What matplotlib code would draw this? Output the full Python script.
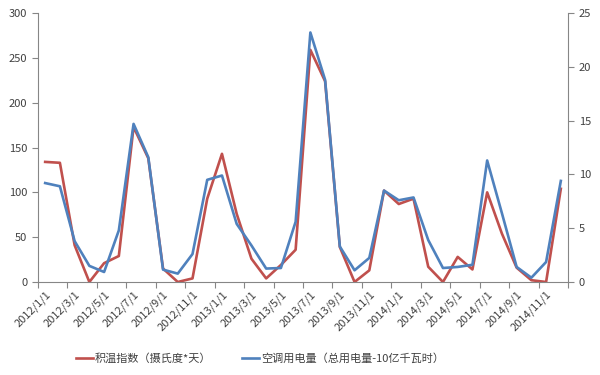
import matplotlib
matplotlib.use("Agg")
import matplotlib.pyplot as plt

plt.rcParams['font.family'] = ['Noto Sans CJK SC', 'DejaVu Sans']

months = [f"{y}/{m}/1" for y in (2012, 2013, 2014) for m in range(1, 13)]

# 积温指数 (left axis)
heat = [134, 133, 41, 0, 21, 29, 173, 138, 15, 0, 4, 93,
        143, 76, 26, 4, 19, 36, 259, 224, 39, 0, 13, 102,
        87, 93, 17, 0, 28, 14, 100, 54, 16, 2, 0, 104]

# 空调用电量 (right axis)
power = [9.2, 8.9, 3.8, 1.5, 0.93, 4.8, 14.7, 11.6, 1.15, 0.78, 2.6, 9.5,
         9.9, 5.4, 3.4, 1.25, 1.3, 5.6, 23.2, 18.8, 3.3, 1.09, 2.24, 8.5,
         7.6, 7.86, 3.9, 1.3, 1.4, 1.6, 11.3, 6.4, 1.4, 0.4, 1.86, 9.4]

red = '#C0504D'
blue = '#4F81BD'
axis_col = '#868686'
text_col = '#404040'

fig = plt.figure(figsize=(6, 3.75), dpi=100)
ax = fig.add_axes([0.063, 0.248, 0.884, 0.717])
ax2 = ax.twinx()

x = list(range(len(months)))
l1, = ax.plot(x, heat, color=red, lw=1.9, label='积温指数（摄氏度*天）')
l2, = ax2.plot(x, power, color=blue, lw=1.9, label='空调用电量（总用电量-10亿千瓦时）')

ax.set_xlim(-0.5, len(months) - 0.5)
ax.set_ylim(0, 300)
ax.set_yticks(range(0, 301, 50))
ax2.set_ylim(0, 25)
ax2.set_yticks(range(0, 26, 5))

# ticks at category boundaries, labels at category centres
ax.set_xticks([i - 0.5 for i in range(0, len(months) + 1, 2)])
ax.set_xticklabels([])
ax.set_xticks(x[::2], minor=True)
ax.set_xticklabels(months[::2], minor=True, rotation=45, ha='right', va='top',
                   rotation_mode='anchor', fontsize=8, color=text_col)
ax.tick_params(axis='x', which='minor', length=0, pad=5)
ax.tick_params(axis='x', which='major', length=4, color=axis_col, direction='out')

for a in (ax, ax2):
    for s in a.spines.values():
        s.set_visible(False)
    a.tick_params(axis='y', length=4, color=axis_col, direction='out',
                  labelsize=8, labelcolor=text_col)
ax.spines['left'].set_visible(True)
ax.spines['bottom'].set_visible(True)
ax2.spines['right'].set_visible(True)
for s in (ax.spines['left'], ax.spines['bottom'], ax2.spines['right']):
    s.set_color(axis_col)
    s.set_linewidth(0.8)

fig.legend(handles=[l1, l2], loc='center', bbox_to_anchor=(0.433, 0.045),
           ncol=2, frameon=False, fontsize=8, handlelength=1.6,
           columnspacing=2.7, handletextpad=0.15, labelcolor=text_col)

fig.savefig('out.png', dpi=100)
